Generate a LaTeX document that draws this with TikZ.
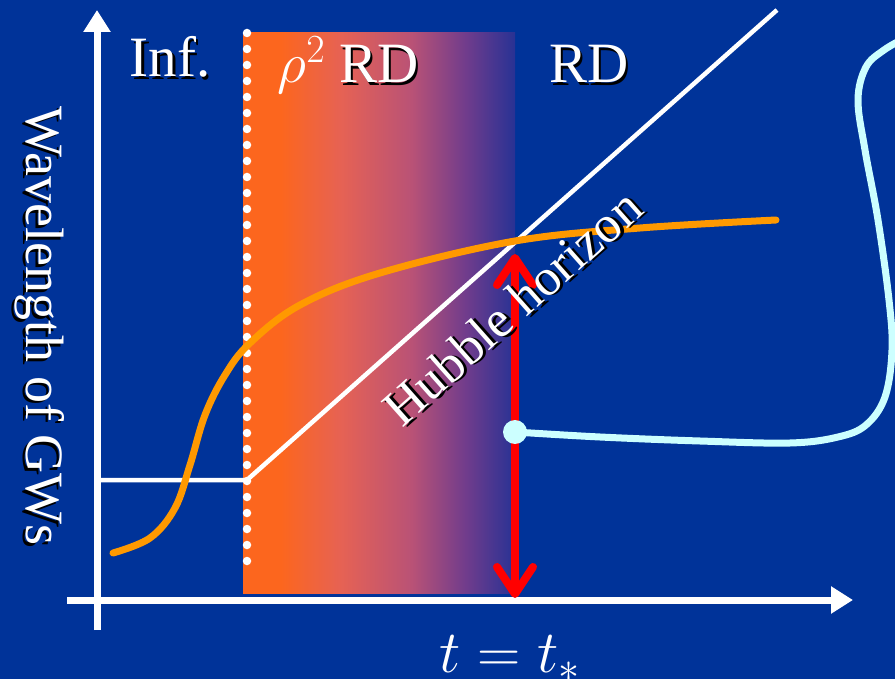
\RequirePackage{fix-cm}
\documentclass[tikz,border=0pt]{standalone}
\usepackage{fontspec}
\setmainfont{Liberation Serif}
\usetikzlibrary{arrows.meta}

\definecolor{slideblue}{RGB}{0,51,153}
\definecolor{hotorange}{RGB}{252,102,30}
\definecolor{salmon}{RGB}{230,98,84}
\definecolor{rosy}{RGB}{185,82,118}
\definecolor{plum}{RGB}{112,60,140}
\definecolor{fadeblue}{RGB}{40,50,148}
\definecolor{curveorange}{RGB}{255,153,0}
\definecolor{paleblue}{RGB}{204,255,255}

\pgfdeclarehorizontalshading{heat}{100bp}{color(0bp)=(hotorange); color(25bp)=(hotorange);
  color(32bp)=(hotorange); color(43bp)=(salmon); color(56bp)=(rosy); color(66bp)=(plum);
  color(75bp)=(fadeblue); color(100bp)=(fadeblue)}

\newcommand\shadowed[1]{\makebox[0pt][l]{\hspace{2.5pt}\raisebox{-2.5pt}{\color{black}#1}}#1}

\begin{document}
\begin{tikzpicture}[x=1pt,y=-1pt,
    axis/.style={white, line width=7pt, -{Triangle[length=22pt,width=26pt]}},
    guide/.style={white, line width=4.5pt},
    label/.style={text=white, inner sep=0pt, font=\fontsize{57}{60}\selectfont},
    horizon/.style={red, line width=8pt, {Straight Barb[length=27pt,width=36pt,round]}-{Straight Barb[length=27pt,width=36pt,round]}}
]
\useasboundingbox (0,0) rectangle (895,679);
\fill[slideblue] (0,0) rectangle (895,679);

% ============== ERA BAND ==============
\shade[shading=heat] (243,33) rectangle (515,593);
\coordinate (endinf) at (247,33);
\coordinate (endinfbottom) at (247,577);
\draw[white, line width=8.5pt, line cap=round, dash pattern=on 0pt off 16pt] (endinf) -- (endinfbottom);

% ============== AXES ==============
\coordinate (origin) at (97,630);
\coordinate (ytop) at (97,10);
\coordinate (xstart) at (67,600);
\coordinate (xend) at (853,600);
\draw[axis] (xstart) -- (xend);
\draw[axis] (origin) -- (ytop);

% ============== HUBBLE HORIZON ==============
\coordinate (hstart) at (100,480);
\coordinate (kink) at (247,480);
\coordinate (hend) at (777,10);
\draw[guide] (hstart) -- (kink) -- (hend);

% ============== GW WAVELENGTH ==============
\draw[curveorange, line width=7pt, line cap=round] plot[smooth, tension=0.6] coordinates {
    (113,553) (150,538) (175,508) (190,465) (205,415) (225,375) (250,343)
    (300,305) (380,273) (515,241) (640,228) (776,220)};

% ============== HORIZON ENTRY ==============
\coordinate (entry) at (515,254);
\coordinate (tstar) at (515,598);
\draw[horizon] (tstar) -- (entry);

\coordinate (mode) at (515,432);
\begin{scope}
\clip (0,0) rectangle (895,679);
\draw[paleblue, line width=7pt] plot[smooth, tension=0.6] coordinates {
    (mode) (600,437) (700,441) (790,443) (838,437) (866,425) (885,397) (892,350)
    (889,300) (878,220) (865,150) (858,100) (866,67) (884,50) (905,38)};
\end{scope}
\fill[paleblue] (mode) circle (12);

% ============== LABELS ==============
\node[label, anchor=base] (inf) at (170,77) {\shadowed{Inf.}};
\node[label, anchor=base] (rhord) at (348,83) {$\rho^2$ \shadowed{RD}};
\node[label, anchor=base] (rd) at (589,83) {\shadowed{RD}};
\node[label, rotate=41.6, font=\fontsize{52}{55}\selectfont] (hubble) at (513,308) {\shadowed{Hubble horizon}};
\node[label, rotate=-90, font=\fontsize{54}{57}\selectfont] (ylabel) at (38,326) {\shadowed{Wavelength of GWs}};
\node[label, anchor=base, font=\fontsize{60}{65}\selectfont] (tlabel) at (510,672) {$t=t_*$};

\end{tikzpicture}
\end{document}
